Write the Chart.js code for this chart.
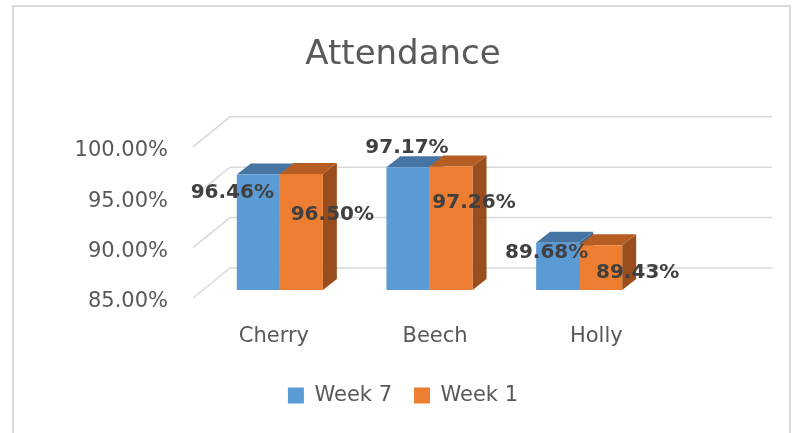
<!DOCTYPE html>
<html>
<head>
<meta charset="utf-8">
<script src="https://cdn.jsdelivr.net/npm/chart.js@4.4.0/dist/chart.umd.min.js"></script>
<style>
  html, body { margin: 0; padding: 0; background: #fff; }
  #wrap { position: relative; width: 792px; height: 433px; }
</style>
</head>
<body>
<div id="wrap"><canvas id="attendanceChart" width="792" height="433"></canvas></div>
<script>
// Attendance by class — 3D-look clustered bars
const categories = ['Cherry', 'Beech', 'Holly']
const week7 = [96.46, 97.17, 89.68]
const week1 = [96.50, 97.26, 89.43]
const yTicks = [85, 90, 95, 100]

const FONT = "'DejaVu Sans', 'Noto Sans', sans-serif"
const GREY = '#595959'
const depth = { dx: 14, dy: 11 }

const fmt = (v) => v.toFixed(2) + '%'

// label nudges per dataset / category, relative to bar centre and top (Excel puts them oddly)
const labelNudge = [
  [[-26, 18], [-1, -20], [-11, 10]],
  [[31, 41], [23, 36], [37, 27]],
]

function poly(ctx, pts) {
  ctx.beginPath()
  ctx.moveTo(pts[0][0], pts[0][1])
  for (let i = 1; i < pts.length; i++) ctx.lineTo(pts[i][0], pts[i][1])
  ctx.closePath()
  ctx.fill()
}

const frame = {
  id: 'frame',
  beforeDraw(chart) {
    const { ctx, width, height } = chart
    ctx.save()
    ctx.fillStyle = '#fff'
    ctx.fillRect(0, 0, width, height)
    ctx.strokeStyle = '#d9d9d9'
    ctx.lineWidth = 2
    ctx.beginPath()
    ctx.moveTo(13, height + 5)
    ctx.lineTo(13, 6)
    ctx.lineTo(790, 6)
    ctx.lineTo(790, height + 5)
    ctx.stroke()
    ctx.restore()
  },
}

const walls = {
  id: 'walls',
  beforeDatasetsDraw(chart) {
    const { ctx, chartArea, scales: { y } } = chart
    const backLeft = chartArea.left + 25
    const backRight = chartArea.right + 118
    ctx.save()
    ctx.strokeStyle = '#d9d9d9'
    ctx.lineWidth = 1.5
    yTicks.forEach((v) => {
      const by = y.getPixelForValue(v) - 22
      ctx.beginPath()
      ctx.moveTo(backLeft - 37, by + 30)
      ctx.lineTo(backLeft, by)
      ctx.lineTo(backRight, by)
      ctx.stroke()
    })
    // top and side faces sit behind the front faces drawn by Chart.js
    chart.data.datasets.forEach((ds, di) => {
      chart.getDatasetMeta(di).data.forEach((bar) => {
        const { x, y: top, base, width } = bar.getProps(['x', 'y', 'base', 'width'], true)
        const l = x - width / 2, r = x + width / 2
        const b = Math.min(base, chartArea.bottom)
        ctx.fillStyle = ds.sideColor
        poly(ctx, [[r, top], [r + depth.dx, top - depth.dy], [r + depth.dx, b - depth.dy], [r, b]])
        ctx.fillStyle = ds.topColor
        poly(ctx, [[l, top], [r, top], [r + depth.dx, top - depth.dy], [l + depth.dx, top - depth.dy]])
      })
    })
    ctx.restore()
  },
  afterDatasetsDraw(chart) {
    const { ctx, chartArea, scales: { x } } = chart
    ctx.save()
    // category labels sit on the front edge of the floor, spread a bit by perspective
    const vx = chartArea.left + 152
    ctx.font = `21px ${FONT}`
    ctx.fillStyle = GREY
    ctx.textAlign = 'center'
    ctx.textBaseline = 'middle'
    categories.forEach((c, i) => {
      const px = x.getPixelForValue(i)
      ctx.fillText(c, vx + (px - vx) * 1.077, chartArea.bottom + 47)
    })
    // data labels
    ctx.font = `bold 20px ${FONT}`
    ctx.fillStyle = '#404040'
    chart.data.datasets.forEach((ds, di) => {
      chart.getDatasetMeta(di).data.forEach((bar, i) => {
        const [nx, ny] = labelNudge[di][i]
        ctx.fillText(fmt(ds.data[i]), bar.x + nx, bar.y + ny)
      })
    })
    ctx.restore()
  },
}

new Chart(document.getElementById('attendanceChart'), {
  type: 'bar',
  data: {
    labels: categories,
    datasets: [
      { label: 'Week 7', data: week7, backgroundColor: '#5b9bd5', topColor: '#4674a3', sideColor: '#3f6a94', borderWidth: 0 },
      { label: 'Week 1', data: week1, backgroundColor: '#ed7d31', topColor: '#b65d24', sideColor: '#9b4e1d', borderWidth: 0 },
    ],
  },
  options: {
    responsive: false,
    devicePixelRatio: 1,
    animation: false,
    layout: { padding: { left: 14, right: 0, top: 0, bottom: 17 } },
    datasets: { bar: { barPercentage: 1, categoryPercentage: 0.575 } },
    plugins: {
      title: {
        display: true,
        text: 'Attendance',
        color: GREY,
        font: { family: FONT, size: 34, weight: 'normal' },
        padding: { top: 35, bottom: 63 },
      },
      legend: {
        position: 'bottom',
        labels: {
          color: GREY,
          font: { family: FONT, size: 21 },
          boxWidth: 16,
          boxHeight: 16,
          padding: 22,
        },
      },
      tooltip: { enabled: false },
    },
    scales: {
      x: {
        grid: { display: false, drawTicks: false },
        border: { display: false },
        ticks: { display: false },
        afterFit: (s) => { s.height = 73 },
      },
      y: {
        min: 85,
        max: 100,
        grid: { display: false, drawTicks: false },
        border: { display: false },
        afterBuildTicks: (s) => { s.ticks = yTicks.map((v) => ({ value: v })) },
        afterFit: (s) => { s.width = 191 },
        ticks: {
          color: GREY,
          font: { family: FONT, size: 21 },
          padding: 37,
          labelOffset: 12,
          callback: (v) => fmt(v),
        },
      },
      // empty right-hand strip: room for the back wall, keeps title and legend centred
      room: {
        position: 'right',
        min: 0,
        max: 1,
        grid: { display: false, drawTicks: false },
        border: { display: false },
        ticks: { display: false },
        afterFit: (s) => { s.width = 138 },
      },
    },
  },
  plugins: [frame, walls],
})
</script>
</body>
</html>
